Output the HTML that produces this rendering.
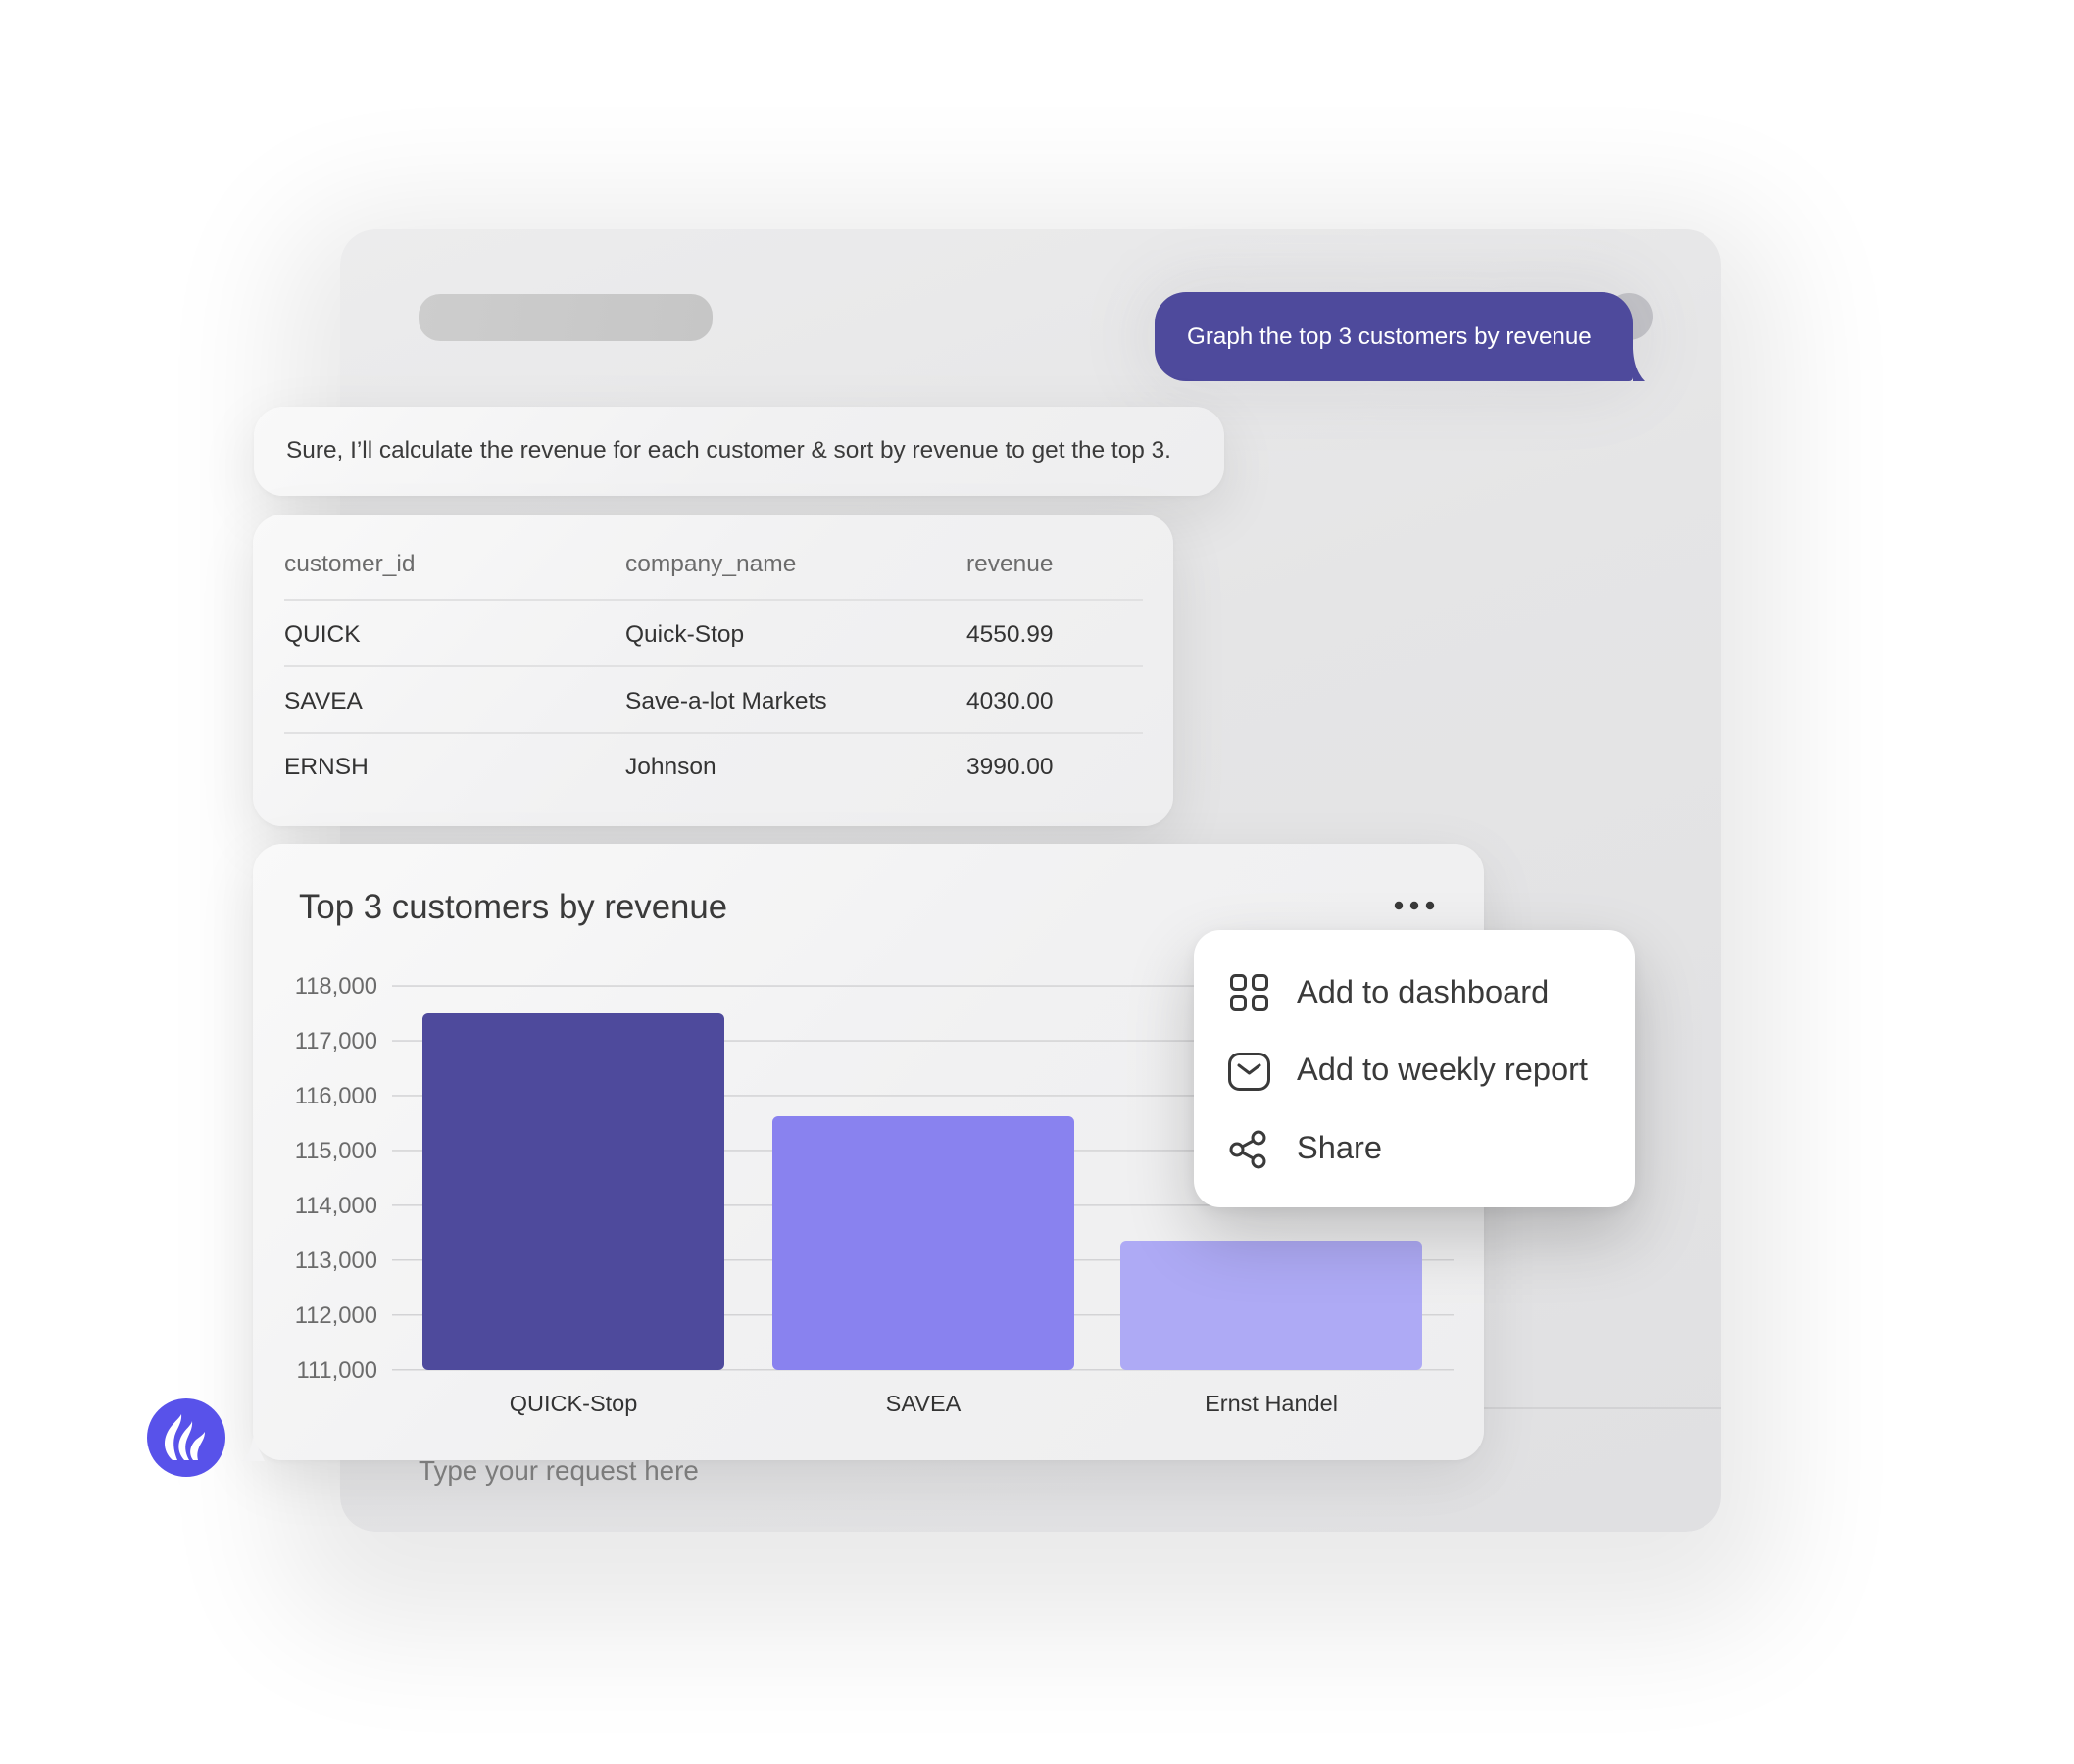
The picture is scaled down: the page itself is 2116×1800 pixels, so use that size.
<!DOCTYPE html>
<html>
<head>
<meta charset="utf-8">
<style>
  html, body { margin:0; padding:0; }
  body { width:2116px; height:1800px; overflow:hidden; background:#ffffff; position:relative; font-family:"Liberation Sans", sans-serif; }
  .abs { position:absolute; }
  #halo { left:347px; top:234px; width:1409px; height:1329px; border-radius:36px; box-shadow: 0 40px 220px 60px rgba(0,0,0,0.085); }
  #panel { left:347px; top:234px; width:1409px; height:1329px; border-radius:36px;
    background: linear-gradient(160deg, #ececed 0%, #e5e5e6 40%, #e0e0e2 100%); }
  #divider { left:1514px; top:1436px; width:242px; height:2px; background:#d2d2d4; }
  #pill { left:427px; top:300px; width:300px; height:48px; border-radius:22px; background:linear-gradient(100deg,#cdcdcd,#c6c6c6); }
  #gcircle { left:1638px; top:299px; width:48px; height:48px; border-radius:50%; background:#c3c3c7; }
  #bubbleglow { left:1178px; top:298px; width:488px; height:91px; border-radius:32px; box-shadow:0 0 70px 10px rgba(90,90,110,0.10); }
  #bubble { left:1178px; top:298px; width:488px; height:91px; border-radius:32px 32px 4px 32px; background:#4e4a9c; }
  .card { border-radius:30px; background:linear-gradient(135deg,#f9f9f9 0%,#f1f1f2 50%,#eeeeef 100%);
    box-shadow: 0 18px 60px rgba(0,0,0,0.09), 0 2px 6px rgba(0,0,0,0.03); }
  #sure { left:259px; top:415px; width:990px; height:91px; }
  #table { left:258px; top:525px; width:939px; height:318px; }
  #chart { left:258px; top:861px; width:1256px; height:629px; }
  #menu { left:1218px; top:949px; width:450px; height:283px; border-radius:27px; background:#ffffff;
    box-shadow: 0 30px 70px rgba(0,0,0,0.20), 0 4px 14px rgba(0,0,0,0.06); }
  svg.layer { position:absolute; left:0; top:0; }
</style>
</head>
<body>
<div id="halo" class="abs"></div>
<div id="panel" class="abs"></div>
<div id="divider" class="abs"></div>
<div id="pill" class="abs"></div>
<div id="gcircle" class="abs"></div>
<div id="bubbleglow" class="abs"></div>
<div id="bubble" class="abs"></div>
<div id="sure" class="abs card"></div>
<div id="table" class="abs card"></div>
<div id="chart" class="abs card"></div>

<svg class="layer" width="2116" height="1800" viewBox="0 0 2116 1800" xmlns="http://www.w3.org/2000/svg">
  <!-- bubble tail -->
  <path d="M1640 389 L1678 389 Q1667 378 1666 356 L1666 389 Z" fill="#4e4a9c"/>
  <text x="1211" y="351" font-family="Liberation Sans, sans-serif" font-size="24.2" fill="#ffffff">Graph the top 3 customers by revenue</text>

  <!-- sure text -->
  <text x="292" y="467" font-family="Liberation Sans, sans-serif" font-size="24.4" fill="#3b3b3b">Sure, I’ll calculate the revenue for each customer &amp; sort by revenue to get the top 3.</text>

  <!-- table -->
  <g font-family="Liberation Sans, sans-serif" font-size="24.5">
    <text x="290" y="583" fill="#6c6c6c">customer_id</text>
    <text x="638" y="583" fill="#6c6c6c">company_name</text>
    <text x="986" y="583" fill="#6c6c6c">revenue</text>
    <rect x="290" y="611" width="876" height="2" fill="#e1e1e2"/>
    <text x="290" y="655" fill="#333">QUICK</text>
    <text x="638" y="655" fill="#333">Quick-Stop</text>
    <text x="986" y="655" fill="#333">4550.99</text>
    <rect x="290" y="679" width="876" height="2" fill="#e1e1e2"/>
    <text x="290" y="723" fill="#333">SAVEA</text>
    <text x="638" y="723" fill="#333">Save-a-lot Markets</text>
    <text x="986" y="723" fill="#333">4030.00</text>
    <rect x="290" y="747" width="876" height="2" fill="#e1e1e2"/>
    <text x="290" y="790" fill="#333">ERNSH</text>
    <text x="638" y="790" fill="#333">Johnson</text>
    <text x="986" y="790" fill="#333">3990.00</text>
  </g>

  <!-- chart card tail -->
  <path d="M246 1491 Q256 1484 258 1466 L270 1491 Z" fill="#f3f3f4"/>

  <!-- chart title and dots -->
  <text x="305" y="937" font-family="Liberation Sans, sans-serif" font-size="34.8" fill="#3a3a3a">Top 3 customers by revenue</text>
  <circle cx="1427" cy="924" r="4.2" fill="#3a3a3a"/>
  <circle cx="1443" cy="924" r="4.2" fill="#3a3a3a"/>
  <circle cx="1459" cy="924" r="4.2" fill="#3a3a3a"/>

  <!-- gridlines -->
  <g fill="#d3d3d5">
    <rect x="400" y="1005.3" width="1083" height="1.5"/>
    <rect x="400" y="1061.3" width="1083" height="1.5"/>
    <rect x="400" y="1117.2" width="1083" height="1.5"/>
    <rect x="400" y="1173.2" width="1083" height="1.5"/>
    <rect x="400" y="1229.1" width="1083" height="1.5"/>
    <rect x="400" y="1285" width="1083" height="1.5"/>
    <rect x="400" y="1341" width="1083" height="1.5"/>
    <rect x="400" y="1397" width="1083" height="1.5"/>
  </g>
  <g font-family="Liberation Sans, sans-serif" font-size="23.8" fill="#6b6b6b" text-anchor="end">
    <text x="385" y="1014">118,000</text>
    <text x="385" y="1070">117,000</text>
    <text x="385" y="1126">116,000</text>
    <text x="385" y="1182">115,000</text>
    <text x="385" y="1238">114,000</text>
    <text x="385" y="1294">113,000</text>
    <text x="385" y="1350">112,000</text>
    <text x="385" y="1406">111,000</text>
  </g>

  <!-- bars -->
  <rect x="431" y="1034" width="308" height="364" rx="6" fill="#4e4a9c"/>
  <rect x="788" y="1139" width="308" height="259" rx="6" fill="#8982ef"/>
  <rect x="1143" y="1266" width="308" height="132" rx="6" fill="#aeaaf5"/>

  <g font-family="Liberation Sans, sans-serif" font-size="23.5" fill="#333" text-anchor="middle">
    <text x="585" y="1440">QUICK-Stop</text>
    <text x="942" y="1440">SAVEA</text>
    <text x="1297" y="1440">Ernst Handel</text>
  </g>

  <!-- input placeholder -->
  <text x="427" y="1510" font-family="Liberation Sans, sans-serif" font-size="27.8" fill="#7b7b7b">Type your request here</text>

  <!-- logo -->
  <circle cx="190" cy="1467" r="40" fill="#5852ea"/>
  <g fill="#ffffff">
    <path d="M176 1490 C165 1480 166 1466 175 1455 C179 1450 183 1447 185 1443 C186 1452 180 1458 178 1466 C176 1474 178 1483 181 1490 Z"/>
    <path d="M188 1490 C180 1481 181 1470 188 1461 C191 1457 195 1454 196 1450 C197 1458 192 1464 190 1471 C188 1478 190 1485 193 1490 Z"/>
    <path d="M197 1490 C192 1483 194 1475 200 1469 C204 1466 207 1464 209 1461 C209 1468 205 1472 203 1477 C201 1482 201 1486 202 1490 Z"/>
  </g>
</svg>

<div id="menu" class="abs"></div>

<svg class="layer" width="2116" height="1800" viewBox="0 0 2116 1800" xmlns="http://www.w3.org/2000/svg">
  <g fill="none" stroke="#3a3a3a" stroke-width="3">
    <!-- grid icon -->
    <rect x="1256.5" y="995.5" width="14" height="14" rx="4"/>
    <rect x="1278.5" y="995.5" width="14" height="14" rx="4"/>
    <rect x="1256.5" y="1016.5" width="14" height="14" rx="4"/>
    <rect x="1278.5" y="1016.5" width="14" height="14" rx="4"/>
    <!-- mail icon -->
    <rect x="1254.5" y="1075.5" width="40" height="36" rx="10"/>
    <path d="M1264 1087 L1274.5 1095 L1285 1087" stroke-linecap="round" stroke-linejoin="round"/>
    <!-- share icon -->
    <circle cx="1284" cy="1161" r="6"/>
    <circle cx="1262" cy="1173" r="6"/>
    <circle cx="1284" cy="1185" r="6"/>
    <path d="M1267.5 1170 L1278.5 1164 M1267.5 1176 L1278.5 1182"/>
  </g>
  <g font-family="Liberation Sans, sans-serif" font-size="32.6" fill="#3a3a3a">
    <text x="1323" y="1023">Add to dashboard</text>
    <text x="1323" y="1102">Add to weekly report</text>
    <text x="1323" y="1182">Share</text>
  </g>
</svg>
</body>
</html>
